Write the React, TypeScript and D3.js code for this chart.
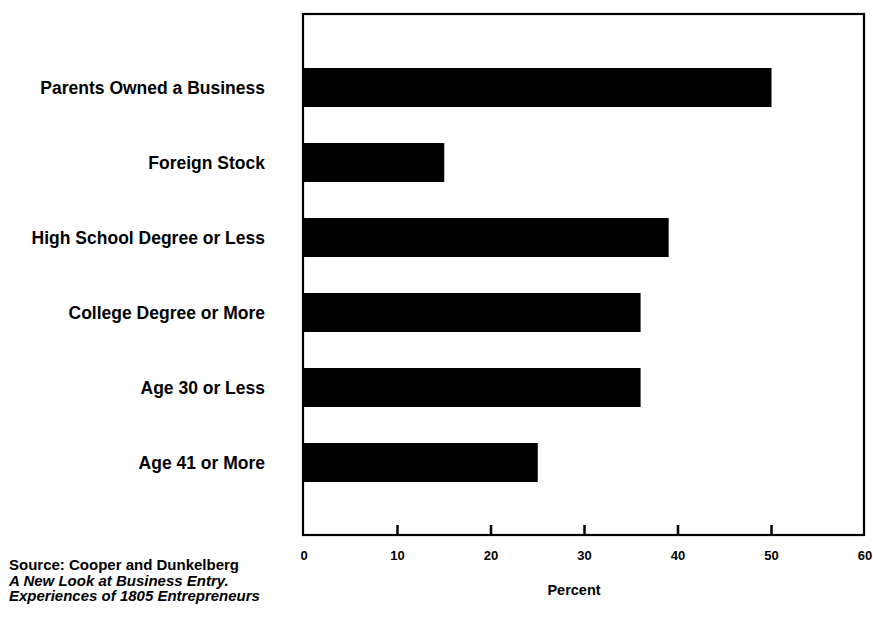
import React from "react";
import * as d3 from "d3";

const categories = [
  "Parents Owned a Business",
  "Foreign Stock",
  "High School Degree or Less",
  "College Degree or More",
  "Age 30 or Less",
  "Age 41 or More",
];
const percentValues = [50, 15, 39, 36, 36, 25];
const tickValues = [0, 10, 20, 30, 40, 50, 60];
const sourceLines = [
  "Source: Cooper and Dunkelberg",
  "A New Look at Business Entry.",
  "Experiences of 1805 Entrepreneurs",
];
const axisTitle = "Percent";

const W = 873;
const H = 621;
const frame = { left: 303, top: 14, right: 864, bottom: 535 };
const FONT = "'Liberation Sans', Arial, Helvetica, sans-serif";

export default function App() {
  const x = d3.scaleLinear().domain([0, 60]).range([304, 865]);
  const y = d3
    .scaleBand<string>()
    .domain(categories)
    .range([50, 500])
    .paddingInner(0.48)
    .paddingOuter(0.24);

  return (
    <svg
      width={W}
      height={H}
      style={{ position: "absolute", left: 0, top: 0, background: "#fff" }}
      fontFamily={FONT}
    >
      <rect x={0} y={0} width={W} height={H} fill="#fff" />
      {/* bars */}
      {categories.map((c, i) => (
        <rect
          key={c}
          x={x(0)}
          y={y(c)!}
          width={x(percentValues[i]) - x(0)}
          height={y.bandwidth()}
          fill="#000"
        />
      ))}
      {/* frame */}
      <rect
        x={frame.left}
        y={frame.top}
        width={frame.right - frame.left}
        height={frame.bottom - frame.top}
        fill="none"
        stroke="#000"
        strokeWidth={2.2}
      />
      {/* ticks */}
      {tickValues.slice(1, -1).map((t) => (
        <line
          key={"t" + t}
          x1={x(t)}
          x2={x(t)}
          y1={frame.bottom}
          y2={frame.bottom - 10}
          stroke="#000"
          strokeWidth={2.5}
        />
      ))}
      {tickValues.map((t) => (
        <text
          key={"l" + t}
          x={x(t)}
          y={560}
          textAnchor="middle"
          fontSize={13}
          fontWeight="bold"
          fill="#000"
        >
          {t}
        </text>
      ))}
      <text
        x={574}
        y={595}
        textAnchor="middle"
        fontSize={14.5}
        fontWeight="bold"
        fill="#000"
      >
        {axisTitle}
      </text>
      {/* category labels */}
      {categories.map((c) => (
        <text
          key={"c" + c}
          x={265}
          y={y(c)! + y.bandwidth() / 2 + 6}
          textAnchor="end"
          fontSize={17.5}
          fontWeight="bold"
          fill="#000"
        >
          {c}
        </text>
      ))}
      {/* source */}
      {sourceLines.map((s, i) => (
        <text
          key={"s" + i}
          x={9}
          y={570 + i * 15.5}
          fontSize={15}
          fontWeight="bold"
          fontStyle={i === 0 ? "normal" : "italic"}
          fill="#000"
        >
          {s}
        </text>
      ))}
    </svg>
  );
}
